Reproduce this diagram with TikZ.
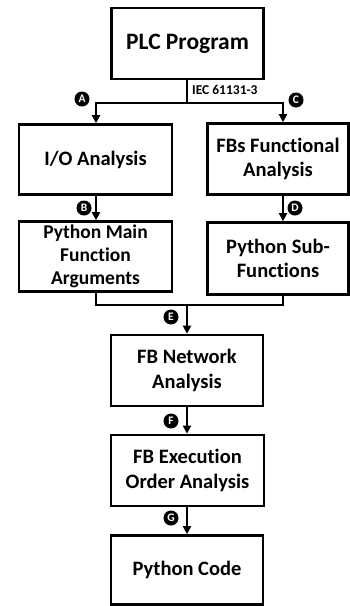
\documentclass[tikz,border=0pt]{standalone}
\usepackage{fontspec}
\setmainfont{Carlito}[Ligatures=NoCommon]
\usetikzlibrary{arrows.meta}
\begin{document}
\begin{tikzpicture}[x=1pt,y=-1pt,
  box/.style={draw,line width=2.6pt,inner sep=0pt,align=center,font=\bfseries\fontsize{20.5}{24.5}\selectfont},
  conn/.style={line width=2.6pt},
  arr/.style={conn,-{Triangle[width=8pt,length=8pt]}},
  badge/.style={circle,fill=black,text=white,inner sep=0pt,minimum size=15pt,font=\bfseries\fontsize{11.5}{11.5}\selectfont}]
\useasboundingbox (0,0) rectangle (350,606);
\node[box,minimum width=152pt,minimum height=71pt,font=\bfseries\fontsize{23.5}{28}\selectfont] (plc) at (187.5,43.5) {PLC Program};
\node[box,minimum width=153pt,minimum height=70pt] (io) at (95.5,159.5) {I/O Analysis};
\node[box,minimum width=141pt,minimum height=71pt] (fbs) at (278,159) {FBs Functional\\Analysis};
\node[box,minimum width=153pt,minimum height=70pt,font=\bfseries\fontsize{19.5}{23}\selectfont] (pym) at (95.5,256.5) {Python Main\\Function\\Arguments};
\node[box,minimum width=141pt,minimum height=72pt] (pys) at (278,258.5) {Python Sub-\\Functions};
\node[box,minimum width=152pt,minimum height=71pt] (fbn) at (187,370.5) {FB Network\\Analysis};
\node[box,minimum width=153pt,minimum height=71pt,font=\bfseries\fontsize{20.5}{25.5}\selectfont] (fbe) at (187.5,470.5) {FB Execution\\Order Analysis};
\node[box,minimum width=152pt,minimum height=69pt] (pyc) at (187,570) {Python Code};
% split
\coordinate (s1) at (187,103);
\coordinate (sl) at (96,103);
\coordinate (sr) at (283,103);
\draw[conn] (plc.south -| s1) -- (s1);
\draw[arr] (s1) -- (sl) -- (io.north -| sl);
\draw[arr] (s1) -- (sr) -- (fbs.north -| sr);
\node[font=\bfseries\fontsize{13.5}{13.5}\selectfont,anchor=west,inner sep=0pt] (iec) at (192,90) {IEC 61131-3};
\node[badge] (bA) at (82,99) {A};
\node[badge] (bC) at (296,100) {C};
% B, D
\draw[arr] (io.south -| sl) -- (pym.north -| sl);
\draw[arr] (fbs.south -| sr) -- (pys.north -| sr);
\node[badge] (bB) at (84,208) {B};
\node[badge] (bD) at (295,208) {D};
% merge
\coordinate (ml) at (96,305);
\coordinate (mr) at (283,305);
\coordinate (mc) at (187,305);
\draw[conn] (pym.south -| ml) -- (ml) -- (mr) -- (pys.south -| mr);
\draw[arr] (mc) -- (fbn.north -| mc);
\node[badge] (bE) at (171,317) {E};
\draw[arr] (fbn.south -| mc) -- (fbe.north -| mc);
\node[badge] (bF) at (171,421) {F};
\draw[arr] (fbe.south -| mc) -- (pyc.north -| mc);
\node[badge] (bG) at (171,518) {G};
\end{tikzpicture}
\end{document}
